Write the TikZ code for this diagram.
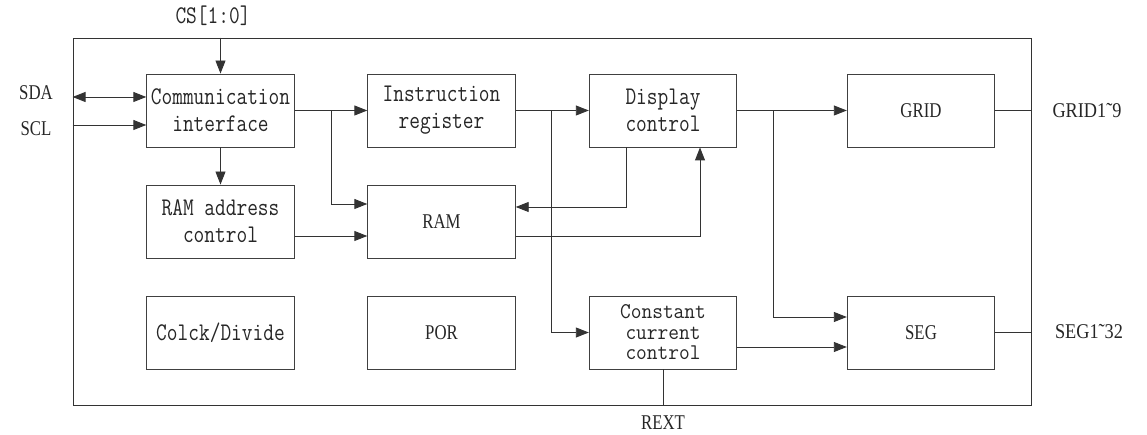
\documentclass[tikz,border=0pt]{standalone}
\usepackage{fontspec}
\setmainfont{Liberation Serif}
\usetikzlibrary{arrows.meta}
\newcommand\mt[1]{\scalebox{1}[1.22]{#1}}
\newcommand\mts[1]{\scalebox{1}[1.08]{#1}}
\newcommand\ul[1]{\scalebox{0.8}[1]{#1}}
\newcommand\ulw[1]{\scalebox{0.87}[1]{#1}}
\tikzset{
  box/.style={draw=black!75, line width=0.9pt, minimum width=147.5pt, minimum height=73pt,
    inner sep=0pt, text=black!85, align=center, font=\ttfamily\fontsize{20.8}{27}\selectfont},
  sbox/.style={box, font=\rmfamily\fontsize{21}{24}\selectfont},
  ulbl/.style={text=black!85, inner sep=0pt, font=\fontsize{21}{24}\selectfont},
  ln/.style={draw=black!80, line width=0.9pt},
  arr/.style={ln, -{Triangle[length=13pt,width=10pt]}},
  darr/.style={ln, {Triangle[length=13pt,width=10pt]}-{Triangle[length=13pt,width=10pt]}}
}
\begin{document}
\begin{tikzpicture}[x=1pt,y=-1pt]
\useasboundingbox (0,0) rectangle (1147,435);
\node[draw=black!80, line width=0.9pt, minimum width=958pt, minimum height=367pt, inner sep=0pt] (chip) at (552,221.5) {};

\node[box] (comm) at (220.5,110.5) {\mt{Communication}\\\mt{interface}};
\node[box] (instr) at (441.5,110.5) {\mt{Instruction}\\\mt{register}};
\node[box] (disp) at (663,110.5) {\mt{Display}\\\mt{control}};
\node[sbox] (grid) at (921,110.5) {\ul{GRID}};
\node[box] (ramac) at (220.5,221.5) {\mt{RAM address}\\\mt{control}};
\node[sbox] (ram) at (441.5,221.5) {\ul{RAM}};
\node[box] (clk) at (220.5,332.5) {\mt{Colck/Divide}};
\node[sbox] (por) at (441.5,332.5) {\ul{POR}};
\node[box, font=\ttfamily\fontsize{20.8}{20.5}\selectfont] (ccc) at (663,332.5) {\mts{Constant}\\\mts{current}\\\mts{control}};
\node[sbox] (seg) at (921,332.5) {\ul{SEG}};

% outside labels
\node[ulbl, font=\ttfamily\fontsize{20.8}{24}\selectfont] (cs) at (213,16) {\mt{CS[1:0]}};
\node[ulbl] (sda) at (36,93) {\ul{SDA}};
\node[ulbl] (scl) at (36,129) {\ul{SCL}};
\node[ulbl] (gridout) at (1087,111) {\ulw{GRID1{\char"02DC}9}};
\node[ulbl] (segout) at (1089,332) {\ulw{SEG1{\char"02DC}32}};
\node[ulbl] (rext) at (663,423) {\ul{REXT}};

\coordinate (sdaIn) at ([yshift=13.5pt]comm.west);
\coordinate (sclIn) at ([yshift=-14.5pt]comm.west);
\coordinate (b1) at (331,110.5);
\coordinate (b2) at (551,110.5);
\coordinate (b3) at (773,110.5);

\draw[arr] (chip.north -| comm.north) -- (comm.north);
\draw[darr] (chip.west |- sdaIn) -- (sdaIn);
\draw[arr] (chip.west |- sclIn) -- (sclIn);
\draw[arr] (comm.east) -- (instr.west);
\draw[arr] (b1) |- ([yshift=17.5pt]ram.west);
\draw[arr] (comm.south) -- (ramac.north);
\draw[arr] ([yshift=-14.5pt]ramac.east) -- ([yshift=-14.5pt]ram.west);
\draw[arr] (instr.east) -- (disp.west);
\draw[arr] (b2) |- (ccc.west);
\draw[arr] ([xshift=-37pt]disp.south) |- ([yshift=14.5pt]ram.east);
\draw[arr] ([yshift=-14.5pt]ram.east) -| ([xshift=37pt]disp.south);
\draw[arr] (disp.east) -- (grid.west);
\draw[arr] (b3) |- ([yshift=15.5pt]seg.west);
\draw[arr] ([yshift=-14.5pt]ccc.east) -- ([yshift=-14.5pt]seg.west);
\draw[ln] (grid.east) -- (chip.east |- grid.east);
\draw[ln] (seg.east) -- (chip.east |- seg.east);
\draw[ln] (ccc.south) -- (chip.south -| ccc.south);
\end{tikzpicture}
\end{document}
